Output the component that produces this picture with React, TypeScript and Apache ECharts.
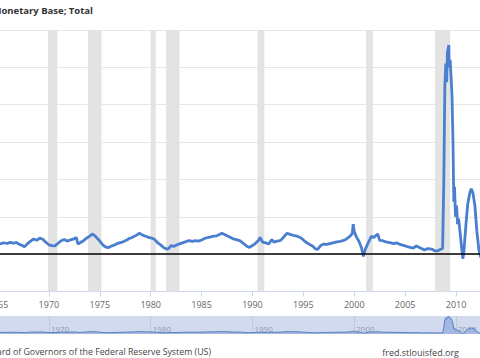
import React, { useEffect, useRef } from "react";
import * as echarts from "echarts";

const years = [
  1965.0, 1965.3, 1965.6, 1965.9, 1966.2, 1966.5, 1966.8, 1967.1, 1967.4, 1967.6, 1967.9,
  1968.2, 1968.5, 1968.8, 1969.1, 1969.4, 1969.7, 1970.0, 1970.3, 1970.6, 1970.9,
  1971.2, 1971.5, 1971.8, 1972.1, 1972.4, 1972.7, 1972.85, 1973.1, 1973.4, 1973.7,
  1974.0, 1974.3, 1974.6, 1974.9, 1975.2, 1975.5, 1975.8, 1976.1, 1976.4, 1976.7,
  1977.0, 1977.3, 1977.6, 1977.9, 1978.2, 1978.5, 1978.9, 1979.2, 1979.5, 1979.8,
  1980.1, 1980.4, 1980.7, 1981.0, 1981.3, 1981.6, 1981.8, 1982.0, 1982.3, 1982.6, 1982.9,
  1983.2, 1983.5, 1983.8, 1984.1, 1984.4, 1984.7, 1985.0, 1985.3, 1985.6, 1985.9,
  1986.2, 1986.5, 1986.8, 1987.0, 1987.3, 1987.6, 1987.9, 1988.2, 1988.5, 1988.8,
  1989.1, 1989.4, 1989.7, 1990.0, 1990.3, 1990.6, 1990.75, 1991.0, 1991.3, 1991.6, 1991.9,
  1992.1, 1992.4, 1992.7, 1992.9, 1993.2, 1993.4, 1993.7, 1994.0, 1994.4, 1994.7,
  1995.0, 1995.3, 1995.6, 1995.9, 1996.2, 1996.4, 1996.7, 1997.0, 1997.3, 1997.6, 1997.9,
  1998.3, 1998.6, 1998.9, 1999.2, 1999.6, 1999.8, 1999.9, 2000.0, 2000.2, 2000.5, 2000.7,
  2000.9, 2001.1, 2001.4, 2001.7, 2001.9, 2002.1, 2002.3, 2002.5, 2002.8, 2003.1, 2003.5,
  2003.9, 2004.2, 2004.5, 2004.9, 2005.2, 2005.5, 2005.8, 2006.1, 2006.4, 2006.7, 2006.9,
  2007.2, 2007.6, 2007.9, 2008.2, 2008.5, 2008.68, 2008.8, 2008.9, 2009.0, 2009.08, 2009.15,
  2009.29, 2009.33, 2009.42, 2009.5, 2009.6, 2009.7, 2009.78, 2009.85, 2009.95, 2010.05,
  2010.15, 2010.25, 2010.37, 2010.52, 2010.67, 2010.78, 2010.96, 2011.15, 2011.36, 2011.5,
  2011.65, 2011.85, 2012.05, 2012.25, 2012.45,
];

const values = [
  5.4, 5.6, 6.1, 5.7, 6.3, 5.9, 6.2, 5.2, 4.6, 4.0, 5.6,
  7.0, 8.1, 7.4, 8.6, 8.0, 6.4, 5.0, 4.6, 4.4, 5.8,
  7.2, 7.8, 7.0, 7.6, 8.0, 8.9, 5.4, 6.2, 7.2, 8.6,
  9.6, 10.8, 9.4, 7.6, 5.6, 4.0, 3.4, 4.2, 4.8, 5.6,
  6.2, 6.6, 7.4, 8.4, 9.0, 9.8, 11.2, 10.2, 9.6, 9.0,
  8.6, 7.8, 6.0, 4.8, 3.4, 2.6, 3.2, 4.6, 4.2, 5.0, 5.6,
  6.2, 6.8, 7.2, 6.8, 7.2, 7.0, 7.6, 8.4, 8.9, 9.2,
  9.6, 9.8, 10.6, 11.2, 10.4, 9.6, 8.8, 8.0, 7.6, 7.1,
  5.8, 4.4, 3.6, 4.6, 5.8, 7.4, 8.9, 6.4, 6.0, 5.4, 7.8,
  6.4, 7.0, 7.2, 8.0, 10.0, 11.2, 10.6, 10.1, 9.6, 8.9,
  7.6, 6.2, 5.2, 4.4, 2.8, 2.6, 4.6, 5.4, 5.2, 5.6, 6.0,
  6.6, 6.8, 7.2, 8.0, 9.6, 11.0, 16.0, 12.0, 9.4, 6.4, 3.6,
  -1.2, 2.8, 6.4, 9.6, 8.8, 9.8, 10.8, 7.4, 7.2, 6.6, 6.2,
  5.6, 6.0, 5.2, 4.6, 4.0, 3.6, 3.2, 4.4, 3.6, 2.8, 2.2,
  3.0, 2.7, 1.8, 1.8, 2.6, 3.0, 40, 90, 102, 92, 108,
  112, 100, 104, 96, 85, 60, 28, 36, 20, 26,
  16, 19, 13, 5, -2.5, 2, 15, 27, 33, 35,
  33, 26, 12, 2, -2,
];

const recessionStart = [1969.92, 1973.83, 1980.0, 1981.5, 1990.5, 2001.17, 2007.92];
const recessionEnd = [1970.83, 1975.17, 1980.5, 1982.83, 1991.17, 2001.83, 2009.42];

const titleText = "Monetary Base; Total";
const sourceText = "Source: Board of Governors of the Federal Reserve System (US)";
const siteText = "fred.stlouisfed.org";

const FONT = "'Open Sans', 'Noto Sans', sans-serif";

export default function App() {
  const ref = useRef<HTMLDivElement>(null);
  useEffect(() => {
    if (!ref.current) return;
    const chart = echarts.init(ref.current, null, { renderer: "svg" });
    const data = years.map((y, i) => [y, values[i]]);
    const areas = recessionStart.map((s, i) => [{ xAxis: s }, { xAxis: recessionEnd[i] }]);
    chart.setOption({
      animation: false,
      backgroundColor: "#ffffff",
      textStyle: { fontFamily: FONT },
      grid: [
        { left: -2, right: -2, top: 30, height: 261.5, outerBoundsMode: "none", containLabel: false },
        {
          left: -52.9, right: -2, top: 316, height: 18, show: true,
          backgroundColor: "#d2dbee", borderWidth: 0, outerBoundsMode: "none", containLabel: false,
        },
      ],
      xAxis: [
        {
          type: "value", gridIndex: 0, min: 1965, max: 2012.55, interval: 5,
          axisLine: { show: true, onZero: false, lineStyle: { color: "#ccd6eb", width: 1 } },
          axisTick: { show: true, length: 5, lineStyle: { color: "#ccd6eb" } },
          splitLine: { show: false },
          axisLabel: {
            color: "#666", fontSize: 9, margin: 8, fontFamily: FONT,
            formatter: (v: number) => (Math.abs(v % 5) < 1e-6 ? String(Math.round(v)) : ""),
          },
        },
        {
          type: "value", gridIndex: 1, min: 1960, max: 2012.55, interval: 10,
          axisLine: { show: false, onZero: false },
          axisTick: { show: false },
          splitLine: { show: true, lineStyle: { color: "#bfcae1", width: 1 } },
          axisLabel: {
            inside: true, margin: 2, align: "left", padding: [0, 0, 0, 2],
            color: "#8f9ab2", fontSize: 8, fontFamily: FONT,
            formatter: (v: number) => (Math.abs(v % 10) < 1e-6 && v > 1965 ? String(Math.round(v)) : ""),
          },
        },
      ],
      yAxis: [
        {
          type: "value", gridIndex: 0, min: -20, max: 120, interval: 20,
          axisLine: { show: false }, axisTick: { show: false },
          axisLabel: { show: false },
          splitLine: { show: true, lineStyle: { color: "#e6e6e6", width: 1 } },
        },
        {
          type: "value", gridIndex: 1, min: -5, max: 114,
          axisLine: { show: false }, axisTick: { show: false },
          axisLabel: { show: false }, splitLine: { show: false },
        },
      ],
      series: [
        {
          type: "line", xAxisIndex: 0, yAxisIndex: 0, data,
          showSymbol: false, symbol: "none",
          lineStyle: { color: "#4a7fcf", width: 2.8 },
          itemStyle: { color: "#4a7fcf" },
          markArea: {
            silent: true,
            itemStyle: { color: "#e3e3e3" },
            data: areas,
          },
          markLine: {
            silent: true, symbol: ["none", "none"],
            label: { show: false },
            lineStyle: { color: "#000000", width: 1.5, type: "solid" },
            data: [{ yAxis: 0 }],
          },
        },
        {
          type: "line", xAxisIndex: 1, yAxisIndex: 1, data,
          showSymbol: false, symbol: "none",
          lineStyle: { color: "#5a7fc4", width: 1 },
          areaStyle: { color: "#8ea8da", origin: "start" },
        },
      ],
      graphic: [
        {
          type: "text", x: 93, y: 10,
          style: {
            text: titleText, textAlign: "right", textVerticalAlign: "middle",
            fontSize: 9.5, fontWeight: "bold", fill: "#333", fontFamily: FONT,
          },
        },
        {
          type: "text", x: 211, y: 352,
          style: {
            text: sourceText, textAlign: "right", textVerticalAlign: "middle",
            fontSize: 8.8, fill: "#444", fontFamily: FONT,
          },
        },
        {
          type: "text", x: 459, y: 352,
          style: {
            text: siteText, textAlign: "right", textVerticalAlign: "middle",
            fontSize: 9, fill: "#444", fontFamily: FONT,
          },
        },
      ],
    });
    return () => chart.dispose();
  }, []);
  return (
    <div style={{ position: "fixed", left: 0, top: 0, width: 480, height: 358, overflow: "hidden", background: "#fff" }}>
      <div ref={ref} style={{ width: 480, height: 358 }} />
    </div>
  );
}
